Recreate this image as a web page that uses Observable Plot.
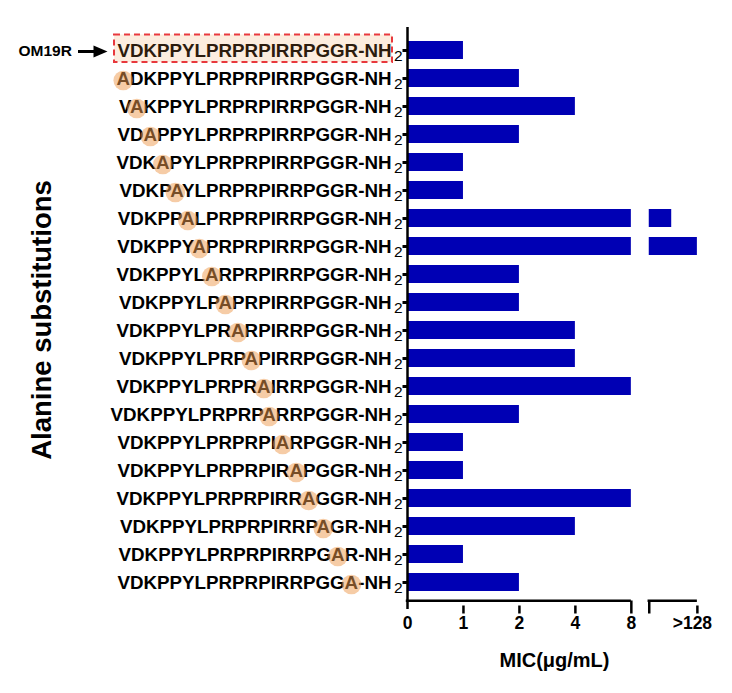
<!DOCTYPE html>
<html><head><meta charset="utf-8">
<script src="https://cdn.jsdelivr.net/npm/d3@7"></script>
<script src="https://cdn.jsdelivr.net/npm/@observablehq/plot@0.6"></script>
<style>body{margin:0;background:#fff} svg{display:block}</style>
</head><body><div id="chart"></div>
<script>
// ---- data ----
const parentName = "OM19R";
const parentSeq = "VDKPPYLPRPRPIRRPGGR";
const peptides = [
  "VDKPPYLPRPRPIRRPGGR",
  "ADKPPYLPRPRPIRRPGGR",
  "VAKPPYLPRPRPIRRPGGR",
  "VDAPPYLPRPRPIRRPGGR",
  "VDKAPYLPRPRPIRRPGGR",
  "VDKPAYLPRPRPIRRPGGR",
  "VDKPPALPRPRPIRRPGGR",
  "VDKPPYAPRPRPIRRPGGR",
  "VDKPPYLARPRPIRRPGGR",
  "VDKPPYLPAPRPIRRPGGR",
  "VDKPPYLPRARPIRRPGGR",
  "VDKPPYLPRPAPIRRPGGR",
  "VDKPPYLPRPRAIRRPGGR",
  "VDKPPYLPRPRPARRPGGR",
  "VDKPPYLPRPRPIARPGGR",
  "VDKPPYLPRPRPIRAPGGR",
  "VDKPPYLPRPRPIRRAGGR",
  "VDKPPYLPRPRPIRRPAGR",
  "VDKPPYLPRPRPIRRPGAR",
  "VDKPPYLPRPRPIRRPGGA"
];
// MIC in µg/mL (128 stands for ">128")
const mic = [1, 2, 4, 2, 1, 1, 64, 128, 2, 2, 4, 4, 8, 2, 1, 1, 8, 4, 1, 2];
const tickValues = [0, 1, 2, 4, 8, 128];
const tickLabels = ["0", "1", "2", "4", "8", ">128"];
const xTitle = "MIC(μg/mL)";
const yTitle = "Alanine substitutions";

// ---- layout / style ----
const W = 732, H = 693, mL = 407, mR = 34, mT = 27, mB = 87;
const BREAK_VALUE = 8, TOP_VALUE = 128;
const BREAK_START = 4.32, BREAK_END = 5.18, X_MAX = 5.2;
const BAR = "#0000b4", ORANGE = "#ee9a4d", RED = "#e8383d";
const FONT = "'Liberation Sans', Arial, sans-serif";
const LABEL_SIZE = 18.75, TEXT_GAP = 16;

// broken axis: 0,1,2,4,8 evenly spaced, then a break, then linear 8..128
function pos(v) {
  if (v <= 0) return 0;
  if (v <= BREAK_VALUE) return Math.log2(v) + 1;
  return BREAK_START + (v - BREAK_VALUE) / (TOP_VALUE - BREAK_VALUE) * (BREAK_END - BREAK_START);
}
const u = X_MAX / (W - mL - mR); // data units per pixel

const ctx = document.createElement("canvas").getContext("2d");
ctx.font = `bold ${LABEL_SIZE}px 'Liberation Sans'`;
const measure = s => ctx.measureText(s).width;

const rows = peptides.map((seq, i) => {
  const text = seq + "-NH";
  const sub = [...seq].findIndex((c, k) => c !== parentSeq[k]);
  const w = measure(text);
  const cx = sub >= 0 ? -(TEXT_GAP + measure(text.slice(sub + 1)) + measure(text[sub]) / 2) * u : null;
  return {seq, text, mic: mic[i], pos: pos(mic[i]), sub, w, cx};
});
const parentRows = rows.filter(d => d.sub < 0);
const subRows = rows.filter(d => d.sub >= 0);
const ticks = tickValues.map((v, i) => ({v, pos: pos(v), label: tickLabels[i]}));
const lastRow = peptides[peptides.length - 1];

const line = pts => ({draw(c) { c.moveTo(...pts[0]); for (const p of pts.slice(1)) c.lineTo(...p); }});
const tri = pts => ({draw(c) { c.moveTo(...pts[0]); for (const p of pts.slice(1)) c.lineTo(...p); c.closePath(); }});

const chart = Plot.plot({
  width: W, height: H,
  marginLeft: mL, marginRight: mR, marginTop: mT, marginBottom: mB,
  style: {fontFamily: FONT, background: "#fff", color: "#000"},
  x: {domain: [0, X_MAX], axis: null},
  y: {type: "band", domain: peptides, padding: 0.35, axis: null},
  marks: [
    // bars (below break)
    Plot.barX(rows, {y: "seq", x1: 0, x2: d => Math.min(d.pos, pos(BREAK_VALUE)), fill: BAR}),
    // bars beyond break
    Plot.barX(rows.filter(d => d.mic > BREAK_VALUE), {y: "seq", x1: () => BREAK_START, x2: "pos", fill: BAR}),
    // y axis line
    Plot.ruleX([0], {strokeWidth: 2.5, insetBottom: -3, insetTop: 0}),
    // x axis segments
    Plot.ruleY([{a: 0, b: pos(BREAK_VALUE)}, {a: BREAK_START, b: pos(TOP_VALUE)}],
      {x1: "a", x2: "b", y: () => lastRow, dy: 18.3, strokeWidth: 2.5, insetLeft: -1.2}),
    // y ticks
    Plot.dot(rows, {x: 0, y: "seq", symbol: line([[-5, 0], [0, 0]]), fill: "none", stroke: "#000", strokeWidth: 3}),
    // x ticks
    Plot.dot(ticks.filter(d => d.v > 0 && d.v !== BREAK_VALUE), {x: "pos", frameAnchor: "bottom", symbol: line([[0, -1], [0, 7]]), fill: "none", stroke: "#000", strokeWidth: 2.5}),
    Plot.dot([pos(BREAK_VALUE), BREAK_START], {x: d => d, frameAnchor: "bottom", symbol: line([[0, -6], [0, 7]]), fill: "none", stroke: "#000", strokeWidth: 2.5}),
    // row labels
    Plot.text(rows, {x: 0, y: "seq", text: "text", textAnchor: "end", dx: -TEXT_GAP, fontSize: LABEL_SIZE, fontWeight: "bold", fill: "#000"}),
    Plot.text(rows, {x: 0, y: "seq", text: () => "2", textAnchor: "end", dx: -5, dy: 5.5, fontSize: 15.5, fill: "#000"}),
    // parent highlight box
    Plot.barX(parentRows, {y: "seq", x1: d => -(TEXT_GAP + d.w + 3) * u, x2: () => -(TEXT_GAP - 1) * u,
      fill: ORANGE, fillOpacity: 0.18, stroke: RED, strokeWidth: 2, strokeDasharray: "6,4", insetTop: -6.5, insetBottom: -3}),
    // substitution circles
    Plot.dot(subRows, {x: "cx", y: "seq", r: 9.8, fill: ORANGE, fillOpacity: 0.5, stroke: "none", dy: 2}),
    // OM19R arrow
    Plot.text(parentRows, {x: 0, y: "seq", text: () => parentName, textAnchor: "start", dx: -389, dy: 1, fontSize: 15.5, fontWeight: "bold", fill: "#000"}),
    Plot.ruleY(parentRows, {y: "seq", x1: () => -(mL - 78) * u, x2: () => -(mL - 95) * u, strokeWidth: 3, dy: 1}),
    Plot.dot(parentRows, {x: () => -(mL - 100) * u, y: "seq", symbol: tri([[-7, -6], [7, 0], [-7, 6]]), fill: "#000", stroke: "none", dy: 1}),
    // tick labels
    Plot.text(ticks.filter(d => d.v <= BREAK_VALUE), {x: "pos", text: "label", frameAnchor: "bottom", dy: 22, fontSize: 17.5, fontWeight: "bold", fill: "#000"}),
    Plot.text(ticks.filter(d => d.v > BREAK_VALUE), {x: "pos", text: "label", frameAnchor: "bottom", dy: 22, dx: -5, fontSize: 17.5, fontWeight: "bold", fill: "#000"}),
    // titles
    Plot.text([xTitle], {frameAnchor: "bottom", text: d => d, textAnchor: "middle", dx: 1.5, dy: 60, fontSize: 20, fontWeight: "bold", fill: "#000"}),
    Plot.text([yTitle], {frameAnchor: "left", text: d => d, textAnchor: "middle", rotate: -90, dx: -365, dy: 3, fontSize: 27.5, fontWeight: "bold", fill: "#000"})
  ]
});
document.getElementById("chart").appendChild(chart);
</script>
</body></html>
